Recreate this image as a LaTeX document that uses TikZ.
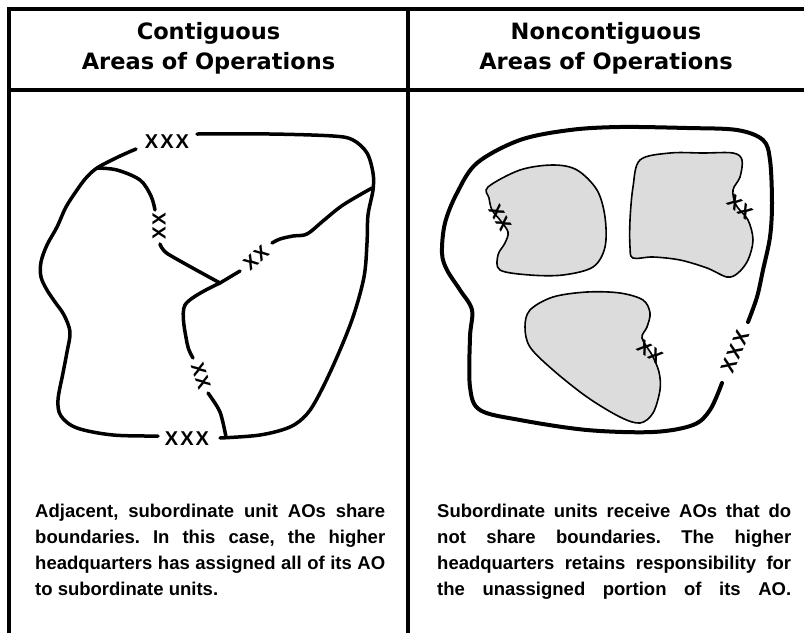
\documentclass[tikz,border=0pt]{standalone}
\usepackage{fontspec}
\setmainfont{Liberation Sans}
\newfontfamily\headfont{DejaVu Sans}
\definecolor{blobgray}{HTML}{DCDCDC}
\begin{document}
\frenchspacing
\begin{tikzpicture}[x=1pt,y=-1pt,
  frame/.style={line width=4pt},
  bnd/.style={line width=3.5pt,line cap=round,line join=round},
  outer/.style={line width=4pt,line cap=round,line join=round},
  blob/.style={fill=blobgray,draw=black,line width=1.6pt},
  headtxt/.style={font=\headfont\bfseries\fontsize{22.5}{22.5}\selectfont,inner sep=0,anchor=base},
  body/.style={font=\bfseries\fontsize{18.5}{26}\selectfont,inner sep=0,anchor=base west},
  xxlab/.style={font=\bfseries\fontsize{19}{19}\selectfont,inner sep=0},
  xxxlab/.style={font=\bfseries\fontsize{20}{20}\selectfont,inner sep=0}]
\useasboundingbox (0,0) rectangle (804,633);
\fill[white] (0,0) rectangle (804,633);
% frame
\draw[frame] (7,9) -- (804,9);
\draw[frame] (9,7) -- (9,633);
\draw[frame] (408,9) -- (408,633);
\draw[frame] (9,90) -- (804,90);
% headers
\node[headtxt] (h1a) at (208.5,39) {Contiguous};
\node[headtxt] (h1b) at (208.5,69) {Areas of Operations};
\node[headtxt] (h2a) at (606,39) {Noncontiguous};
\node[headtxt] (h2b) at (606,69) {Areas of Operations};
% ---------- left map ----------
\coordinate (J1) at (97,168);
\coordinate (J2) at (220,283);
\draw[bnd] plot[smooth,tension=0.55] coordinates {(197,134) (270,134) (333,136) (353,140) (367,153) (373,173) (373,190) (368,215) (367,243) (364,277) (353,317) (337,357) (320,393) (307,414) (290,427) (260,435) (220,438)};
\draw[bnd] plot[smooth,tension=0.55] coordinates {(136,149) (118,157) (J1) (86,178) (77,190) (66,207) (57,227) (47,245) (41,262) (41,277) (47,290) (55,302) (64,315) (70,332) (67,352) (63,373) (58,400) (61,416) (77,428) (113,435) (158,436)};
\draw[bnd] plot[smooth,tension=0.55] coordinates {(J1) (117,170) (140,180) (151,196) (155,210)};
\draw[bnd] plot[smooth,tension=0.4] coordinates {(160,244) (168,254) (J2)};
\draw[bnd] (J2) -- (240,271);
\draw[bnd] plot[smooth,tension=0.55] coordinates {(272,243) (280,239) (293,236) (307,234) (323,221) (343,205) (372,188)};
\draw[bnd] plot[smooth,tension=0.5] coordinates {(J2) (185,305) (187,343) (193,358)};
\draw[bnd] plot[smooth,tension=0.5] coordinates {(208,393) (220,412) (226,437)};
\node[xxxlab] (x1) at (167,142) {X\kern2ptX\kern2ptX};
\node[xxxlab] (x2) at (187,439) {X\kern2ptX\kern2ptX};
\node[xxlab,rotate=90] (x3) at (159,226) {X\kern1ptX};
\node[xxlab,rotate=40] (x4) at (256,258) {X\kern1ptX};
\node[xxlab,rotate=-72] (x5) at (201,376) {X\kern1ptX};
% ---------- right map ----------
\draw[outer] plot[smooth,tension=0.55] coordinates {(748,322) (757,297) (763,270) (770,237) (772,203) (770,160) (763,140) (737,130) (687,128) (620,127) (570,130) (520,140) (477,163) (457,193) (445,223) (442,253) (447,270) (460,290) (472,310) (470,337) (470,387) (480,410) (520,420) (587,430) (653,432) (693,425) (710,410) (722,383)};
\node[xxxlab,rotate=67] (x6) at (735,352) {X\kern2ptX\kern2ptX};
\draw[blob] plot[smooth cycle,tension=0.55] coordinates {(488,187) (520,170) (553,165) (577,170) (597,190) (605,217) (605,247) (593,267) (563,275) (530,275) (500,270) (498,255) (505,243) (508,232) (500,220) (492,210) (489,198)};
\node[xxlab,rotate=-60] (x7) at (500,218) {X\kern1ptX};
\draw[blob] plot[smooth cycle,tension=0.55] coordinates {(640,160) (670,153) (703,153) (733,153) (742,160) (740,177) (733,190) (736,205) (748,220) (753,240) (748,260) (738,273) (727,277) (707,268) (680,260) (653,257) (633,258) (630,247) (630,220) (633,187)};
\node[xxlab,rotate=-40] (x8) at (740,207) {X\kern1ptX};
\draw[blob] plot[smooth cycle,tension=0.55] coordinates {(530,310) (553,297) (587,292) (620,293) (643,300) (650,313) (647,327) (642,338) (652,355) (659,372) (660,390) (653,413) (640,423) (620,417) (587,397) (553,370) (530,347) (525,327)};
\node[xxlab,rotate=-35] (x9) at (650,352) {X\kern1ptX};
% ---------- texts ----------
\node[body] (L1) at (35,517) {\makebox[350pt][s]{Adjacent, subordinate unit AOs share}};
\node[body] (L2) at (35,543) {\makebox[350pt][s]{boundaries. In this case, the higher}};
\node[body] (L3) at (35,569) {\makebox[350pt][s]{headquarters has assigned all of its AO}};
\node[body] (L4) at (35,595) {to subordinate units.};
\node[body] (R1) at (437,517) {\makebox[354pt][s]{Subordinate units receive AOs that do}};
\node[body] (R2) at (437,543) {\makebox[354pt][s]{not share boundaries. The higher}};
\node[body] (R3) at (437,569) {\makebox[354pt][s]{headquarters retains responsibility for}};
\node[body] (R4) at (437,595) {\makebox[354pt][s]{the unassigned portion of its AO.}};
\end{tikzpicture}
\end{document}
